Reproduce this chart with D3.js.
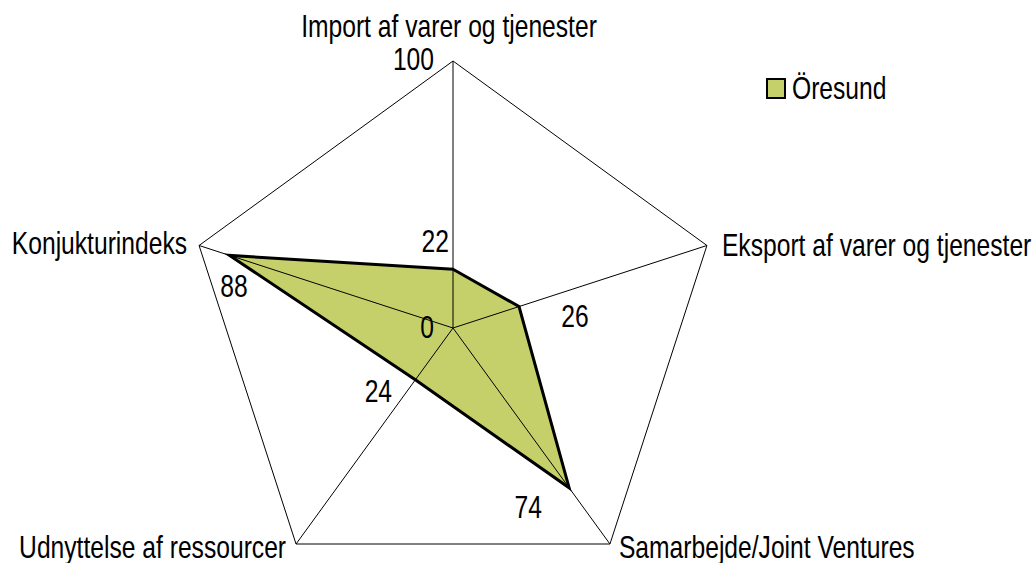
<!DOCTYPE html>
<html><head><meta charset="utf-8">
<script src="https://cdn.jsdelivr.net/npm/d3@7"></script>
<style>
html,body{margin:0;padding:0;background:#fff;}
text{font-family:"Liberation Sans",Arial,sans-serif;font-size:32px;fill:#000;}
</style></head>
<body>
<svg id="chart" width="1033" height="563"></svg>
<script>
const categories = ["Import af varer og tjenester","Eksport af varer og tjenester","Samarbejde/Joint Ventures","Udnyttelse af ressourcer","Konjukturindeks"];
const seriesName = "Öresund";
const values = [22, 26, 74, 24, 88];
const scaleTicks = [0, 100];

const svg = d3.select("#chart");
const cx = 453, cy = 328, R = 267;
const SX = 0.77; // narrow font emulation
const r = d3.scaleLinear().domain([0, 100]).range([0, R]);
const angle = d3.scaleLinear().domain([0, categories.length]).range([0, 2 * Math.PI]);
const pt = (i, v) => [cx + r(v) * Math.sin(angle(i)), cy - r(v) * Math.cos(angle(i))];

function label(x, y, txt, anchor) {
  svg.append("g").attr("transform", `translate(${x},${y}) scale(${SX},1)`)
    .append("text").attr("x", 0).attr("y", 0).attr("text-anchor", anchor || "start").text(txt);
}

const line = d3.line();

// data fill
const dataPts = values.map((v, i) => pt(i, v));
svg.append("path").attr("d", line(dataPts) + "Z")
  .attr("fill", "#c5d06b").attr("stroke", "none");

// web outline
const webPts = categories.map((c, i) => pt(i, 100));
svg.append("path").attr("d", line(webPts) + "Z")
  .attr("fill", "none").attr("stroke", "#000").attr("stroke-width", 1);

// spokes
categories.forEach((c, i) => {
  const p = pt(i, 100);
  svg.append("line").attr("x1", cx).attr("y1", cy).attr("x2", p[0]).attr("y2", p[1])
    .attr("stroke", "#000").attr("stroke-width", 1);
});

// data outline
svg.append("path").attr("d", line(dataPts) + "Z")
  .attr("fill", "none").attr("stroke", "#000").attr("stroke-width", 3).attr("stroke-linejoin", "miter");

// category labels
const catLayout = [
  {anchor: "middle", dx: -4, dy: -24},
  {anchor: "start", dx: 15, dy: 11},
  {anchor: "start", dx: 9, dy: 14},
  {anchor: "end", dx: -10, dy: 14},
  {anchor: "end", dx: -12, dy: 9}
];
categories.forEach((c, i) => {
  const p = pt(i, 100);
  label(p[0] + catLayout[i].dx, p[1] + catLayout[i].dy, c, catLayout[i].anchor);
});

// scale tick labels along first axis
const tickLayout = {0: {dx: -19, dy: 10}, 100: {dx: -19, dy: 9}};
scaleTicks.forEach(t => {
  const p = pt(0, t);
  label(p[0] + tickLayout[t].dx, p[1] + tickLayout[t].dy, t, "end");
});

// data labels
const labelOffset = [[-4, -17], [56, 20], [-41, 30], [-37, 22], [4.5, 42]];
values.forEach((v, i) => {
  const p = pt(i, v);
  label(p[0] + labelOffset[i][0], p[1] + labelOffset[i][1], v, i === 0 ? "end" : "middle");
});

// legend
const lg = svg.append("g").attr("transform", "translate(766,79)");
lg.append("rect").attr("x", 1).attr("y", 0).attr("width", 18).attr("height", 19)
  .attr("fill", "#c5d06b").attr("stroke", "#000").attr("stroke-width", 2);
label(792, 99, seriesName, "start");
</script>
</body></html>
